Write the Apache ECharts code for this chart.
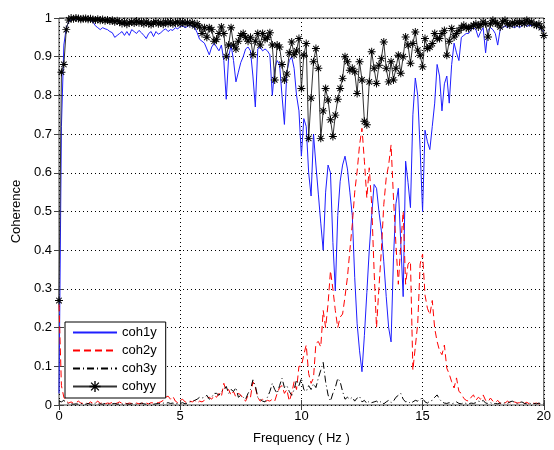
<!DOCTYPE html>
<html><head><meta charset="utf-8">
<script src="https://cdn.jsdelivr.net/npm/echarts@6/dist/echarts.min.js"></script>
<style>html,body{margin:0;padding:0;background:#fff}#c{width:554px;height:450px}</style>
</head><body><div id="c"></div>
<script>
const freq = [
0,0.1,0.2,0.3,0.4,0.5,0.6,0.7,0.8,0.9,
1,1.1,1.2,1.3,1.4,1.5,1.6,1.7,1.8,1.9,
2,2.1,2.2,2.3,2.4,2.5,2.6,2.7,2.8,2.9,
3,3.1,3.2,3.3,3.4,3.5,3.6,3.7,3.8,3.9,
4,4.1,4.2,4.3,4.4,4.5,4.6,4.7,4.8,4.9,
5,5.1,5.2,5.3,5.4,5.5,5.6,5.7,5.8,5.9,
6,6.1,6.2,6.3,6.4,6.5,6.6,6.7,6.8,6.9,
7,7.1,7.2,7.3,7.4,7.5,7.6,7.7,7.8,7.9,
8,8.1,8.2,8.3,8.4,8.5,8.6,8.7,8.8,8.9,
9,9.1,9.2,9.3,9.4,9.5,9.6,9.7,9.8,9.9,
10,10.1,10.2,10.3,10.4,10.5,10.6,10.7,10.8,10.9,
11,11.1,11.2,11.3,11.4,11.5,11.6,11.7,11.8,11.9,
12,12.1,12.2,12.3,12.4,12.5,12.6,12.7,12.8,12.9,
13,13.1,13.2,13.3,13.4,13.5,13.6,13.7,13.8,13.9,
14,14.1,14.2,14.3,14.4,14.5,14.6,14.7,14.8,14.9,
15,15.1,15.2,15.3,15.4,15.5,15.6,15.7,15.8,15.9,
16,16.1,16.2,16.3,16.4,16.5,16.6,16.7,16.8,16.9,
17,17.1,17.2,17.3,17.4,17.5,17.6,17.7,17.8,17.9,
18,18.1,18.2,18.3,18.4,18.5,18.6,18.7,18.8,18.9,
19,19.1,19.2,19.3,19.4,19.5,19.6,19.7,19.8,19.9,
20];

const coh1y = [
0.03,0.72,0.93,0.975,0.99,0.995,0.998,0.997,0.998,0.996,
0.997,0.996,0.997,0.995,0.99,0.98,0.975,0.97,0.975,0.972,
0.97,0.965,0.962,0.95,0.955,0.96,0.965,0.955,0.965,0.955,
0.97,0.965,0.96,0.968,0.962,0.955,0.947,0.96,0.965,0.952,
0.965,0.958,0.962,0.968,0.972,0.965,0.97,0.968,0.975,0.972,
0.978,0.98,0.975,0.978,0.982,0.978,0.975,0.962,0.945,0.94,
0.935,0.92,0.905,0.925,0.935,0.925,0.915,0.93,0.89,0.79,
0.9,0.93,0.89,0.835,0.86,0.885,0.9,0.92,0.925,0.915,
0.85,0.77,0.92,0.925,0.915,0.92,0.915,0.905,0.8,0.87,
0.89,0.88,0.8,0.725,0.86,0.89,0.9,0.87,0.8,0.76,
0.643,0.74,0.72,0.6,0.54,0.7,0.62,0.545,0.47,0.4,
0.55,0.62,0.6,0.42,0.295,0.49,0.578,0.62,0.643,0.61,
0.55,0.49,0.33,0.21,0.14,0.086,0.18,0.29,0.4,0.49,
0.57,0.56,0.5,0.45,0.37,0.28,0.2,0.163,0.38,0.52,
0.56,0.42,0.28,0.63,0.575,0.51,0.75,0.845,0.8,0.66,
0.5,0.71,0.68,0.66,0.72,0.78,0.88,0.85,0.76,0.83,
0.85,0.78,0.88,0.935,0.91,0.89,0.95,0.955,0.96,0.96,
0.97,0.975,0.97,0.95,0.965,0.975,0.91,0.97,0.975,0.97,
0.96,0.93,0.97,0.975,0.98,0.975,0.98,0.978,0.975,0.98,
0.975,0.98,0.985,0.978,0.982,0.98,0.985,0.98,0.975,0.97,
0.965];

const coh2y = [
0.26,0.05,0.02,0.01,0.005,0.008,0.004,0.006,0.01,0.005,
0.004,0.006,0.003,0.008,0.004,0.005,0.01,0.004,0.006,0.003,
0.005,0.004,0.007,0.003,0.005,0.008,0.004,0.006,0.003,0.005,
0.004,0.006,0.005,0.003,0.004,0.007,0.005,0.003,0.006,0.005,
0.005,0.006,0.008,0.012,0.02,0.023,0.015,0.022,0.01,0.006,
0.012,0.015,0.008,0.006,0.01,0.008,0.012,0.005,0.01,0.008,
0.012,0.018,0.02,0.015,0.025,0.02,0.03,0.022,0.056,0.035,
0.04,0.025,0.035,0.02,0.03,0.026,0.015,0.01,0.025,0.02,
0.06,0.045,0.02,0.01,0.015,0.008,0.012,0.01,0.015,0.01,
0.03,0.045,0.05,0.03,0.04,0.01,0.03,0.06,0.04,0.1,
0.1,0.13,0.155,0.081,0.056,0.07,0.16,0.164,0.15,0.244,
0.2,0.261,0.347,0.3,0.244,0.2,0.227,0.235,0.28,0.33,
0.4,0.467,0.55,0.604,0.672,0.715,0.63,0.535,0.613,0.518,
0.347,0.2,0.304,0.4,0.518,0.587,0.62,0.672,0.535,0.415,
0.312,0.415,0.5,0.312,0.364,0.372,0.09,0.15,0.21,0.364,
0.39,0.284,0.25,0.233,0.27,0.198,0.164,0.14,0.13,0.155,
0.095,0.08,0.06,0.044,0.07,0.035,0.03,0.017,0.012,0.01,
0.02,0.026,0.012,0.02,0.015,0.026,0.012,0.008,0.018,0.01,
0.006,0.012,0.004,0.008,0.005,0.01,0.006,0.004,0.008,0.005,
0.006,0.01,0.004,0.007,0.003,0.006,0.004,0.005,0.003,0.004,
0.004];

const coh3y = [
0.01,0.008,0.012,0.006,0.004,0.003,0.002,0.003,0.002,0.004,
0.003,0.002,0.004,0.002,0.003,0.005,0.002,0.003,0.002,0.004,
0.003,0.002,0.003,0.004,0.002,0.003,0.002,0.004,0.003,0.002,
0.003,0.004,0.002,0.003,0.005,0.003,0.002,0.004,0.003,0.002,
0.003,0.004,0.003,0.005,0.004,0.006,0.004,0.005,0.003,0.004,
0.004,0.006,0.003,0.005,0.008,0.01,0.012,0.015,0.02,0.018,
0.02,0.025,0.015,0.02,0.03,0.03,0.025,0.035,0.04,0.048,
0.03,0.04,0.035,0.045,0.02,0.025,0.02,0.015,0.03,0.04,
0.065,0.05,0.02,0.015,0.01,0.008,0.02,0.035,0.056,0.04,
0.03,0.05,0.069,0.045,0.05,0.035,0.025,0.04,0.065,0.05,
0.069,0.04,0.035,0.05,0.04,0.055,0.045,0.07,0.09,0.11,
0.06,0.026,0.01,0.03,0.045,0.069,0.06,0.035,0.015,0.02,
0.015,0.02,0.01,0.018,0.022,0.008,0.012,0.004,0.01,0.006,
0.008,0.01,0.005,0.01,0.003,0.008,0.012,0.006,0.01,0.02,
0.025,0.03,0.015,0.008,0.01,0.004,0.008,0.012,0.01,0.015,
0.018,0.008,0.005,0.01,0.012,0.02,0.026,0.015,0.008,0.005,
0.004,0.006,0.003,0.005,0.008,0.004,0.003,0.006,0.004,0.003,
0.005,0.004,0.006,0.01,0.008,0.012,0.005,0.004,0.006,0.003,
0.004,0.003,0.005,0.003,0.006,0.004,0.008,0.01,0.007,0.004,
0.006,0.008,0.004,0.003,0.005,0.003,0.004,0.003,0.005,0.003,
0.003];

const cohyy = [
0.27,0.86,0.88,0.97,0.995,1.0,0.998,1.0,0.999,0.997,
0.998,0.999,0.997,0.998,0.996,0.995,0.997,0.994,0.996,0.993,
0.995,0.992,0.994,0.99,0.993,0.99,0.986,0.99,0.984,0.988,
0.99,0.987,0.992,0.988,0.99,0.985,0.99,0.986,0.983,0.988,
0.99,0.985,0.988,0.984,0.99,0.986,0.99,0.985,0.988,0.99,
0.985,0.99,0.986,0.989,0.985,0.988,0.98,0.985,0.977,0.96,
0.975,0.95,0.975,0.97,0.94,0.945,0.96,0.977,0.96,0.9,
0.93,0.975,0.93,0.92,0.94,0.955,0.96,0.95,0.94,0.95,
0.905,0.94,0.96,0.93,0.96,0.945,0.95,0.962,0.93,0.84,
0.93,0.925,0.88,0.84,0.855,0.91,0.938,0.905,0.915,0.947,
0.818,0.904,0.934,0.689,0.793,0.887,0.921,0.87,0.689,0.76,
0.818,0.788,0.737,0.694,0.749,0.79,0.818,0.844,0.9,0.887,
0.865,0.87,0.861,0.805,0.887,0.84,0.733,0.724,0.835,0.913,
0.87,0.831,0.878,0.895,0.938,0.87,0.835,0.887,0.84,0.87,
0.904,0.857,0.9,0.951,0.93,0.883,0.934,0.964,0.917,0.904,
0.874,0.947,0.921,0.925,0.934,0.96,0.947,0.947,0.96,0.968,
0.904,0.94,0.973,0.951,0.96,0.968,0.975,0.981,0.975,0.973,
0.978,0.981,0.985,0.977,0.983,0.99,0.985,0.951,0.985,0.994,
0.988,0.985,0.977,0.99,0.994,0.985,0.982,0.988,0.985,0.99,
0.986,0.99,0.985,0.994,0.988,0.99,0.984,0.981,0.985,0.975,
0.955];

const seriesNames = ['coh1y','coh2y','coh3y','cohyy'];

const pairs = ys => freq.map((f,i)=>[f, ys[i]]);
const FONT = '"Liberation Sans", Arial, Helvetica, sans-serif';
const star = 'path://M-0.6,-5L0.6,-5L0.6,5L-0.6,5Z M-5,-0.6L5,-0.6L5,0.6L-5,0.6Z M-3.9,-3.05L-3.05,-3.9L3.9,3.05L3.05,3.9Z M3.05,-3.9L3.9,-3.05L-3.05,3.9L-3.9,3.05Z';
const hidden = {opacity:0, borderWidth:0};

const chart = echarts.init(document.getElementById('c'), null, {renderer:'canvas'});
chart.setOption({
  animation:false,
  backgroundColor:'#fff',
  grid:{left:59, top:18, right:4, bottom:43, show:true, borderColor:'#404040', borderWidth:1, backgroundColor:'transparent'},
  legend:{
    orient:'vertical', left:65, top:322,
    data:[
      {name:seriesNames[0], itemStyle:hidden},
      {name:seriesNames[1], itemStyle:hidden},
      {name:seriesNames[2], itemStyle:hidden},
      {name:seriesNames[3]}
    ],
    itemWidth:44, itemHeight:14, itemGap:5,
    padding:[4,9,5,7],
    backgroundColor:'#fff', borderColor:'#000', borderWidth:1,
    textStyle:{fontFamily:FONT, fontSize:13, color:'#000'}
  },
  xAxis:[{
    type:'value', min:0, max:20, interval:5,
    name:'Frequency ( Hz )', nameLocation:'middle', nameGap:27,
    nameTextStyle:{fontFamily:FONT, fontSize:13, color:'#000'},
    axisLine:{show:false},
    axisTick:{inside:true, length:5, lineStyle:{color:'#404040'}},
    axisLabel:{fontFamily:FONT, fontSize:13, color:'#000', margin:5},
    splitLine:{show:true, lineStyle:{color:'#000', type:[1,3], width:1}}
  },{
    type:'value', min:0, max:20, interval:5, position:'top',
    axisLine:{show:false}, axisLabel:{show:false}, splitLine:{show:false},
    axisTick:{inside:true, length:5, lineStyle:{color:'#404040'}}
  }],
  yAxis:[{
    type:'value', min:0, max:1, interval:0.1,
    name:'Coherence', nameLocation:'middle', nameGap:34,
    nameTextStyle:{fontFamily:FONT, fontSize:13, color:'#000'},
    axisLine:{show:false},
    axisTick:{inside:true, length:5, lineStyle:{color:'#404040'}},
    axisLabel:{fontFamily:FONT, fontSize:13, color:'#000', margin:7},
    splitLine:{show:true, lineStyle:{color:'#000', type:[1,3], width:1}}
  },{
    type:'value', min:0, max:1, interval:0.1, position:'right',
    axisLine:{show:false}, axisLabel:{show:false}, splitLine:{show:false},
    axisTick:{inside:true, length:5, lineStyle:{color:'#404040'}}
  }],
  series:[
    {name:seriesNames[0], type:'line', data:pairs(coh1y), showSymbol:false, symbol:'none',
     lineStyle:{color:'#1f1fff', width:1}, itemStyle:{color:'#1f1fff'}},
    {name:seriesNames[1], type:'line', data:pairs(coh2y), showSymbol:false, symbol:'none',
     lineStyle:{color:'#ff0000', width:1, type:[7,4]}, itemStyle:{color:'#ff0000'}},
    {name:seriesNames[2], type:'line', data:pairs(coh3y), showSymbol:false, symbol:'none',
     lineStyle:{color:'#000', width:1, type:[7,3,1,3]}, itemStyle:{color:'#000'}},
    {name:seriesNames[3], type:'line', data:pairs(cohyy), symbol:star, symbolSize:8, showAllSymbol:true,
     lineStyle:{color:'#333', width:1}, itemStyle:{color:'#000'}}
  ]
});
</script></body></html>
